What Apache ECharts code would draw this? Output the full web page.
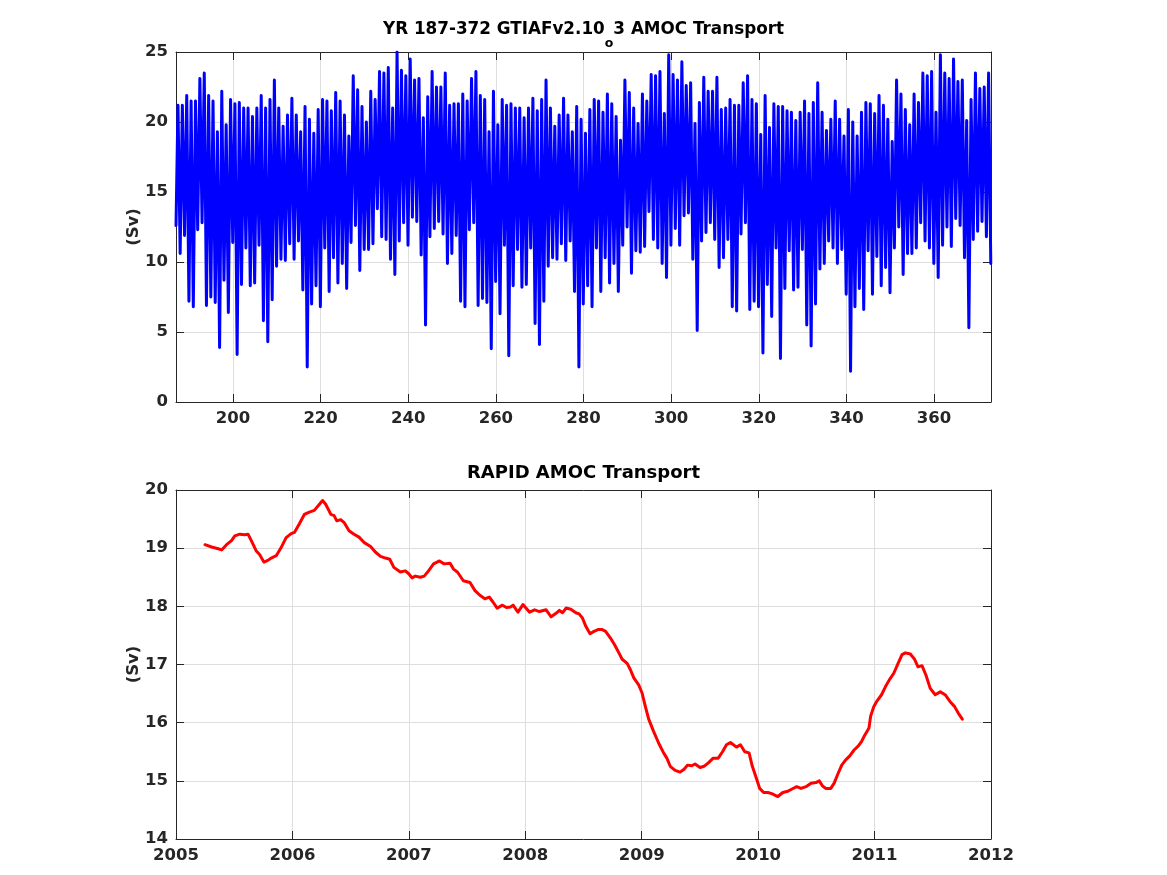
<!DOCTYPE html>
<html>
<head>
<meta charset="utf-8">
<script src="https://cdn.jsdelivr.net/npm/echarts@6/dist/echarts.min.js"></script>
<style>
html,body{margin:0;padding:0;background:#ffffff;}
#chart{width:1167px;height:875px;}
</style>
</head>
<body>
<div id="chart"></div>
<script>
// ---------------- data ----------------
// Model run: first model year, value at the very start, and the annual high / low of the
// monthly AMOC transport (Sv) for each model year 187 ... 372
const modelFirstYear = 187;
const modelStartValue = 12.6;
const modelAnnualHigh = [
  21.2,21.2,21.9,21.5,21.5,23.1,23.5,21.9,21.5,19.3,22.2,19.8,21.6,21.3,21.4,21.0,21.0,20.4,21.0,21.9,
  21.0,21.6,23.0,21.0,19.7,20.5,21.7,20.5,19.3,21.1,20.2,19.2,20.9,21.6,21.5,20.8,22.1,21.5,20.5,19.0,
  23.3,22.3,21.1,20.0,22.2,21.6,23.6,23.5,23.9,21.0,25.0,23.7,23.3,24.5,23.0,23.1,20.3,21.8,23.6,22.5,
  22.5,23.5,
  21.2,21.3,21.3,22.0,21.5,23.1,23.6,21.9,21.6,19.3,22.2,19.8,21.6,21.2,21.3,21.0,21.0,20.3,21.0,21.7,
  20.8,21.6,23.0,21.0,19.7,20.5,21.7,20.5,19.3,21.1,20.2,19.2,20.9,21.6,21.5,20.7,22.0,21.3,20.4,18.7,
  23.0,22.1,21.0,19.9,22.0,21.5,23.4,23.3,23.6,20.6,24.8,23.4,23.0,24.3,22.6,22.8,19.9,21.4,23.2,22.2,
  22.2,23.2,
  20.9,21.0,21.6,21.2,21.2,22.8,23.3,21.6,21.3,19.1,21.9,19.6,21.3,21.1,21.1,20.8,20.7,20.1,20.7,21.5,
  20.6,21.4,22.8,20.7,19.4,20.2,21.5,20.2,19.0,20.9,20.0,19.0,20.7,21.4,21.3,20.6,21.9,21.2,20.2,18.6,
  23.0,22.0,20.9,19.8,22.0,21.4,23.5,23.3,23.6,20.7,24.8,23.5,23.1,24.5,22.9,23.0,20.1,21.6,23.5,22.4,
  22.5,23.5
];
const modelAnnualLow = [
  10.6,11.9,7.2,6.8,12.3,12.8,6.9,7.5,7.1,3.9,8.7,6.4,11.4,3.4,8.4,11.0,8.3,8.5,11.2,5.8,
  4.3,7.3,9.7,10.2,10.1,11.3,10.2,11.5,8.0,2.5,7.0,8.3,6.8,11.0,7.9,10.3,8.5,9.9,8.1,11.4,
  12.6,9.4,10.9,10.9,11.3,13.8,11.8,11.6,10.2,9.1,11.5,12.8,11.2,13.2,12.9,10.5,5.5,11.8,12.4,12.9,
  12.0,9.9,
  10.6,11.9,7.2,6.8,12.3,12.8,6.9,7.4,7.1,3.8,8.6,6.3,11.2,3.3,8.3,10.9,8.2,8.4,11.0,5.6,
  4.1,7.2,9.7,10.3,10.2,11.3,10.1,11.5,7.9,2.5,7.0,8.3,6.8,11.0,7.9,10.3,8.5,9.9,7.9,11.2,
  12.5,9.2,10.8,10.7,11.1,13.6,11.6,11.0,9.9,8.9,11.2,12.4,11.2,13.3,13.5,10.2,5.1,11.5,12.1,12.8,
  11.6,9.6,
  10.3,11.6,6.8,6.5,12.0,12.8,6.6,7.2,6.8,3.5,8.4,6.1,11.0,3.1,8.1,10.8,8.0,8.2,10.9,5.5,
  4.0,7.0,9.5,9.9,11.5,11.0,9.9,10.9,7.7,2.2,6.8,8.1,6.6,10.8,7.7,10.4,8.3,9.6,7.8,11.0,
  12.5,9.1,10.6,10.6,11.0,12.8,11.5,11.0,9.9,8.9,11.2,12.5,11.1,13.1,12.6,10.3,5.3,11.6,12.2,12.9,
  11.8,9.9
];
// within-year timing of the annual high and low (fraction of the model year)
const highPhase = 0.45;
const lowPhase = 0.95;

// RAPID observations: decimal year and transport (Sv)
const rapidTime = [
  2005.249,2005.306,2005.363,2005.392,2005.434,2005.477,2005.505,2005.548,2005.590,2005.619,
  2005.647,2005.690,2005.718,2005.755,2005.789,2005.818,2005.861,2005.903,2005.946,2005.989,
  2006.017,2006.060,2006.102,2006.145,2006.188,2006.230,2006.259,2006.287,2006.330,2006.358,
  2006.381,2006.415,2006.444,2006.486,2006.529,2006.572,2006.614,2006.671,2006.714,2006.757,
  2006.799,2006.836,2006.871,2006.927,2006.970,2006.999,2007.027,2007.055,2007.098,2007.132,
  2007.169,2007.212,2007.263,2007.303,2007.354,2007.383,2007.417,2007.468,2007.525,2007.568,
  2007.610,2007.653,2007.690,2007.724,2007.758,2007.804,2007.838,2007.872,2007.895,2007.937,
  2007.980,2008.037,2008.080,2008.122,2008.179,2008.222,2008.264,2008.293,2008.321,2008.350,
  2008.391,2008.434,2008.462,2008.491,2008.519,2008.556,2008.590,2008.624,2008.661,2008.690,
  2008.733,2008.767,2008.804,2008.832,2008.875,2008.903,2008.932,2008.974,2009.003,2009.031,
  2009.060,2009.102,2009.145,2009.188,2009.216,2009.245,2009.287,2009.330,2009.364,2009.393,
  2009.430,2009.458,2009.501,2009.535,2009.572,2009.614,2009.657,2009.694,2009.728,2009.762,
  2009.814,2009.848,2009.885,2009.922,2009.950,2009.984,2010.013,2010.047,2010.084,2010.117,
  2010.169,2010.212,2010.255,2010.291,2010.331,2010.368,2010.411,2010.454,2010.496,2010.525,
  2010.553,2010.582,2010.624,2010.653,2010.681,2010.718,2010.752,2010.787,2010.824,2010.861,
  2010.889,2010.917,2010.952,2010.966,2010.994,2011.023,2011.060,2011.094,2011.128,2011.165,
  2011.202,2011.236,2011.265,2011.307,2011.344,2011.373,2011.407,2011.441,2011.478,2011.521,
  2011.564,2011.606,2011.649,2011.686,2011.720,2011.754
];
const rapidSv = [
  19.06,19.02,18.99,18.97,19.06,19.13,19.21,19.24,19.23,19.24,
  19.13,18.95,18.89,18.76,18.79,18.83,18.87,19.01,19.18,19.25,
  19.27,19.42,19.58,19.62,19.65,19.75,19.82,19.75,19.58,19.56,
  19.47,19.49,19.44,19.30,19.24,19.19,19.10,19.03,18.93,18.86,
  18.83,18.81,18.67,18.59,18.61,18.56,18.49,18.52,18.50,18.52,
  18.61,18.73,18.78,18.73,18.74,18.64,18.59,18.44,18.41,18.27,
  18.19,18.13,18.16,18.07,17.97,18.02,17.98,17.99,18.02,17.90,
  18.03,17.90,17.94,17.91,17.94,17.82,17.88,17.93,17.89,17.97,
  17.95,17.89,17.87,17.80,17.66,17.53,17.57,17.60,17.60,17.57,
  17.45,17.34,17.20,17.09,17.02,16.91,16.77,16.65,16.51,16.28,
  16.06,15.85,15.65,15.48,15.39,15.25,15.18,15.15,15.20,15.27,
  15.26,15.29,15.23,15.25,15.31,15.39,15.39,15.50,15.62,15.66,
  15.58,15.62,15.50,15.48,15.25,15.05,14.87,14.80,14.80,14.78,
  14.73,14.80,14.82,14.86,14.90,14.87,14.90,14.96,14.97,15.00,
  14.91,14.87,14.87,14.96,15.10,15.27,15.36,15.43,15.53,15.60,
  15.68,15.79,15.91,16.11,16.28,16.38,16.48,16.62,16.74,16.85,
  17.02,17.17,17.20,17.18,17.09,16.96,16.98,16.82,16.59,16.48,
  16.53,16.48,16.36,16.28,16.16,16.06
];

// axis ranges / titles
const topXRange = [187, 373];
const topYRange = [0, 25];
const botXRange = [2005, 2012];
const botYRange = [14, 20];
const topTitle = 'YR 187-372 GTIAFv2.10{sub|o}3 AMOC Transport';
const botTitle = 'RAPID AMOC Transport';
const yName = '(Sv)';

// ---------------- build series ----------------
const modelSeries = [[modelFirstYear, modelStartValue]];
for (let i = 0; i < modelAnnualHigh.length; i++) {
  const yr = modelFirstYear + i;
  modelSeries.push([yr + highPhase, modelAnnualHigh[i]]);
  modelSeries.push([yr + lowPhase, modelAnnualLow[i]]);
}
const rapidSeries = rapidTime.map((t, i) => [t, rapidSv[i]]);

// ---------------- styling ----------------
const FONT = 'DejaVu Sans';
const AX = '#262626';
const GRIDC = '#dedede';
const FS = 16.5;

function labelStyle(show, extra) {
  return Object.assign({
    show: show, color: AX, fontFamily: FONT, fontWeight: 'bold', fontSize: FS,
    margin: 8, formatter: v => String(v)
  }, extra || {});
}
function axisCommon(range, isPrimary, extra) {
  return Object.assign({
    type: 'value', min: range[0], max: range[1],
    axisLine: { show: true, onZero: false, lineStyle: { color: AX, width: 1 } },
    axisTick: { show: true, inside: true, length: 8, lineStyle: { color: AX, width: 1 } },
    splitLine: { show: isPrimary, lineStyle: { color: GRIDC, width: 1 } },
    axisLabel: labelStyle(isPrimary)
  }, extra || {});
}
const nameStyle = { color: AX, fontFamily: FONT, fontWeight: 'bold', fontSize: FS };

const chart = echarts.init(document.getElementById('chart'), null, { renderer: 'canvas' });
const option = {
  animation: false,
  backgroundColor: '#ffffff',
  title: [
    {
      text: topTitle, left: 'center', top: 9, padding: 0,
      textStyle: {
        fontFamily: FONT, fontWeight: 'bold', fontSize: 16.8, color: '#000',
        rich: { sub: { fontFamily: FONT, fontWeight: 'bold', fontSize: 12.5, color: '#000', padding: [28, 0, 0, 0] } }
      }
    },
    {
      text: botTitle, left: 'center', top: 464, padding: 0,
      textStyle: { fontFamily: FONT, fontWeight: 'bold', fontSize: 18, color: '#000' }
    }
  ],
  grid: [
    { left: 176, top: 52, width: 815, height: 350, containLabel: false },
    { left: 176, top: 490, width: 815, height: 349, containLabel: false }
  ],
  xAxis: [
    axisCommon(topXRange, true, {
      gridIndex: 0, position: 'bottom', minInterval: 20, maxInterval: 20, splitNumber: 9,
      axisLabel: labelStyle(true, { showMinLabel: false, showMaxLabel: false })
    }),
    axisCommon(topXRange, false, { gridIndex: 0, position: 'top', minInterval: 20, maxInterval: 20, splitNumber: 9 }),
    axisCommon(botXRange, true, { gridIndex: 1, position: 'bottom', interval: 1 }),
    axisCommon(botXRange, false, { gridIndex: 1, position: 'top', interval: 1 })
  ],
  yAxis: [
    axisCommon(topYRange, true, {
      gridIndex: 0, position: 'left', interval: 5,
      name: yName, nameLocation: 'middle', nameGap: 34, nameRotate: 90, nameMoveOverlap: false,
      nameTextStyle: nameStyle
    }),
    axisCommon(topYRange, false, { gridIndex: 0, position: 'right', interval: 5 }),
    axisCommon(botYRange, true, {
      gridIndex: 1, position: 'left', interval: 1,
      name: yName, nameLocation: 'middle', nameGap: 34, nameRotate: 90, nameMoveOverlap: false,
      nameTextStyle: nameStyle
    }),
    axisCommon(botYRange, false, { gridIndex: 1, position: 'right', interval: 1 })
  ],
  series: [
    {
      type: 'line', xAxisIndex: 0, yAxisIndex: 0, data: modelSeries,
      showSymbol: false, symbol: 'none', silent: true, clip: true,
      lineStyle: { color: '#0000ff', width: 3, join: 'round', cap: 'round' }
    },
    {
      type: 'line', xAxisIndex: 2, yAxisIndex: 2, data: rapidSeries,
      showSymbol: false, symbol: 'none', silent: true,
      lineStyle: { color: '#ff0000', width: 3, join: 'round', cap: 'round' }
    }
  ]
};
chart.setOption(option);
</script>
</body>
</html>
